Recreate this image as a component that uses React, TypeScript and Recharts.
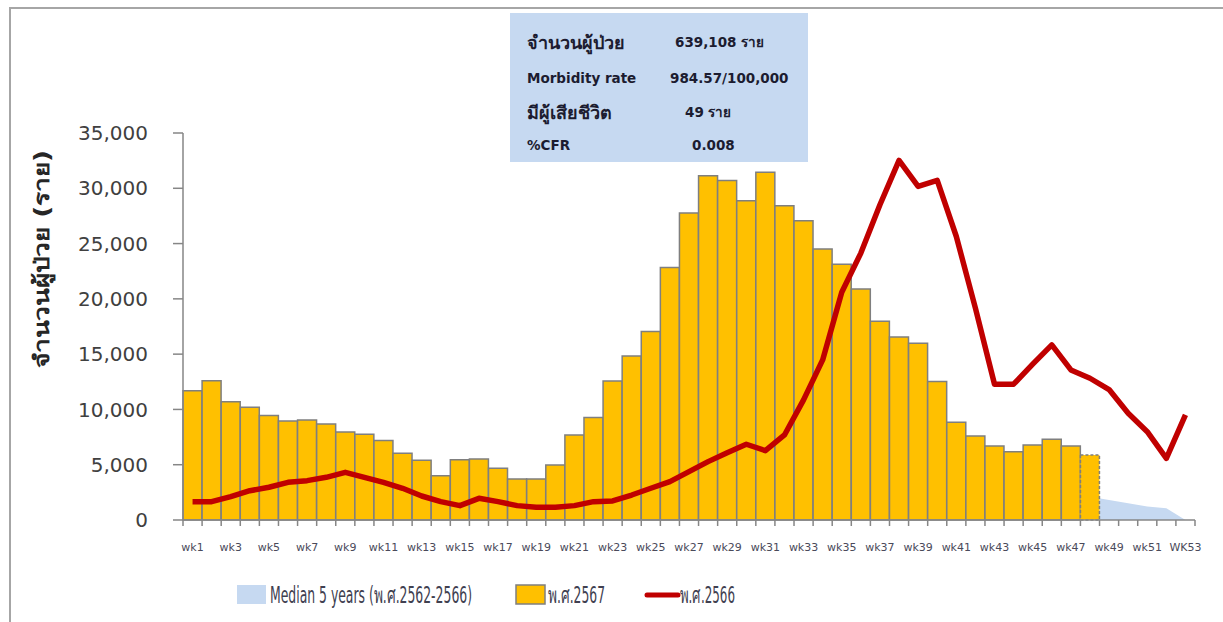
import { ComposedChart, Bar, Line, Area, XAxis, YAxis, Cell } from 'recharts';

const weeks = [
  'wk1', 'wk2', 'wk3', 'wk4', 'wk5', 'wk6', 'wk7', 'wk8', 'wk9', 'wk10',
  'wk11', 'wk12', 'wk13', 'wk14', 'wk15', 'wk16', 'wk17', 'wk18', 'wk19', 'wk20',
  'wk21', 'wk22', 'wk23', 'wk24', 'wk25', 'wk26', 'wk27', 'wk28', 'wk29', 'wk30',
  'wk31', 'wk32', 'wk33', 'wk34', 'wk35', 'wk36', 'wk37', 'wk38', 'wk39', 'wk40',
  'wk41', 'wk42', 'wk43', 'wk44', 'wk45', 'wk46', 'wk47', 'wk48', 'wk49', 'wk50',
  'wk51', 'wk52', 'WK53',
];

// พ.ศ.2567 (bars), reported up to wk48
const cases2567 = [
  11700, 12600, 10700, 10200, 9440, 8960, 9050, 8690, 7960, 7750,
  7180, 6030, 5400, 4010, 5460, 5520, 4680, 3710, 3710, 4980,
  7690, 9260, 12580, 14840, 17040, 22830, 27760, 31130, 30710, 28870,
  31460, 28420, 27060, 24500, 23140, 20900, 17980, 16560, 15990, 12520,
  8840, 7600, 6700, 6180, 6790, 7300, 6700, 5880,
];

// พ.ศ.2566 (red line)
const cases2566 = [
  1660, 1660, 2110, 2650, 2960, 3410, 3560, 3860, 4310, 3860,
  3410, 2870, 2170, 1660, 1300, 1960, 1660, 1300, 1150, 1150,
  1300, 1660, 1720, 2260, 2870, 3470, 4370, 5280, 6090, 6850,
  6270, 7690, 10860, 14480, 20600, 24140, 28510, 32520, 30170, 30710,
  25640, 19160, 12280, 12280, 14090, 15840, 13570, 12820, 11800, 9650,
  7990, 5580, 9500,
];

// Median 5 years, only visible past the last bar
const median5y: (number | null)[] = [
  null, null, null, null, null, null, null, null, null, null,
  null, null, null, null, null, null, null, null, null, null,
  null, null, null, null, null, null, null, null, null, null,
  null, null, null, null, null, null, null, null, null, null,
  null, null, null, null, null, null, null, 2100, 1810, 1510,
  1210, 1060, 0,
];

const yTicks = [0, 5000, 10000, 15000, 20000, 25000, 30000, 35000];

const infoLabels = ['จำนวนผู้ป่วย', 'Morbidity rate', 'มีผู้เสียชีวิต', '%CFR'];
const infoValues = ['639,108 ราย', '984.57/100,000', '49 ราย', '0.008'];

const legendLabels = ['Median 5 years (พ.ศ.2562-2566)', 'พ.ศ.2567', 'พ.ศ.2566'];

const rows = weeks.map((week, i) => ({
  week,
  y2567: i < cases2567.length ? cases2567[i] : null,
  y2566: cases2566[i],
  median: median5y[i],
}));

const W = 1223;
const H = 622;
const margin = { top: 133, right: 28, bottom: 72, left: 0 };
const yAxisWidth = 183;
const band = (W - yAxisWidth - margin.right) / weeks.length;
const axisColor = '#868686';
const font = "Tahoma, 'DejaVu Sans', sans-serif";
const narrowFont = "'Liberation Sans Narrow', 'DejaVu Sans Condensed', 'Liberation Sans', sans-serif";

function WeekTick(props: any) {
  const { x, y, index, payload } = props;
  const left = x - band / 2;
  return (
    <g>
      <line x1={left} y1={y} x2={left} y2={y + 6} stroke={axisColor} strokeWidth={1.5} />
      {index === weeks.length - 1 && (
        <line x1={x + band / 2} y1={y} x2={x + band / 2} y2={y + 6} stroke={axisColor} strokeWidth={1.5} />
      )}
      {index % 2 === 0 && (
        <text x={x} y={y + 31} textAnchor="middle" fontSize={11} fill="#4a4a5a" fontFamily={font}>
          {payload.value}
        </text>
      )}
    </g>
  );
}

function YTitle() {
  return (
    <text
      transform="translate(42, 259) rotate(-90)"
      textAnchor="middle"
      dominantBaseline="central"
      fontSize={21}
      fontWeight="bold"
      fill="#262626"
      fontFamily={font}
      textLength={218}
      lengthAdjust="spacingAndGlyphs"
    >
      จำนวนผู้ป่วย (ราย)
    </text>
  );
}

function InfoBox() {
  const rowY = [29, 65, 99, 132];
  const valueX = [165, 160, 175, 182];
  return (
    <div
      style={{
        position: 'absolute',
        left: 510,
        top: 13,
        width: 298,
        height: 149,
        background: '#C6D9F1',
        fontFamily: font,
        color: '#1c1c30',
      }}
    >
      {infoLabels.map((label, i) => (
        <div key={label}>
          <span
            style={{
              position: 'absolute',
              left: 17,
              top: rowY[i],
              transform: 'translateY(-50%)',
              fontSize: i % 2 === 0 ? 18 : 13.5,
              fontWeight: 'bold',
              whiteSpace: 'nowrap',
            }}
          >
            {label}
          </span>
          <span
            style={{
              position: 'absolute',
              left: valueX[i],
              top: rowY[i],
              transform: 'translateY(-50%)',
              fontSize: 13.5,
              fontWeight: 'bold',
              whiteSpace: 'nowrap',
            }}
          >
            {infoValues[i]}
          </span>
        </div>
      ))}
    </div>
  );
}

// legend text is drawn condensed, as in the reference
function LegendText({ x, width, label }: { x: number; width: number; label: string }) {
  const sx = 0.72;
  return (
    <g transform={`translate(${x}, 33) scale(${sx}, 1)`}>
      <text
        x={0}
        y={0}
        fontSize={23}
        fill="#404050"
        fontFamily={narrowFont}
        textLength={width / sx}
        lengthAdjust="spacingAndGlyphs"
      >
        {label}
      </text>
    </g>
  );
}

function ChartLegend() {
  return (
    <svg width={W} height={52} style={{ position: 'absolute', left: 0, top: 570 }}>
      <rect x={237} y={15} width={29} height={19} fill="#C6D9F1" />
      <LegendText x={270} width={202} label={legendLabels[0]} />
      <rect x={516} y={15} width={29} height={19} fill="#FFC000" stroke="#7F7F7F" strokeWidth={1.5} />
      <LegendText x={548} width={57} label={legendLabels[1]} />
      <line x1={647} y1={25} x2={678} y2={25} stroke="#C00000" strokeWidth={5} strokeLinecap="round" />
      <LegendText x={680} width={55} label={legendLabels[2]} />
    </svg>
  );
}

export default function App() {
  return (
    <div style={{ position: 'absolute', left: 0, top: 0, width: W, height: H, background: '#fff', overflow: 'hidden' }}>
      <div
        style={{
          position: 'absolute',
          left: 9,
          top: 7,
          width: 1400,
          height: 800,
          borderTop: '2px solid #a6a6a6',
          borderLeft: '2px solid #a6a6a6',
        }}
      />
      <div style={{ position: 'absolute', left: 0, top: 0 }}>
        <ComposedChart width={W} height={H} data={rows} margin={margin} barCategoryGap={0} barGap={0}>
          <XAxis
            dataKey="week"
            interval={0}
            height={30}
            tickLine={false}
            tickSize={0}
            tickMargin={0}
            tick={<WeekTick />}
            axisLine={{ stroke: axisColor, strokeWidth: 1.5 }}
          />
          <YAxis
            width={yAxisWidth}
            domain={[0, 35000]}
            ticks={yTicks}
            interval={0}
            tickSize={10}
            tickMargin={25}
            tickFormatter={(v: number) => v.toLocaleString('en-US')}
            tick={{ fontSize: 20, fill: '#404040', fontFamily: font }}
            tickLine={{ stroke: axisColor, strokeWidth: 1.5 }}
            axisLine={{ stroke: axisColor, strokeWidth: 1.5 }}
            label={{ content: () => <YTitle /> }}
          />
          <Area
            dataKey="median"
            type="linear"
            fill="#C6D9F1"
            fillOpacity={1}
            stroke="none"
            connectNulls={false}
            isAnimationActive={false}
          />
          <Bar dataKey="y2567" fill="#FFC000" stroke="#7F7F7F" strokeWidth={1.5} isAnimationActive={false}>
            {rows.map((r, i) => (
              <Cell key={r.week} strokeDasharray={i === cases2567.length - 1 ? '3 2' : undefined} />
            ))}
          </Bar>
          <Line
            dataKey="y2566"
            type="linear"
            stroke="#C00000"
            strokeWidth={5.5}
            strokeLinejoin="round"
            dot={false}
            activeDot={false}
            isAnimationActive={false}
          />
        </ComposedChart>
      </div>
      <InfoBox />
      <ChartLegend />
    </div>
  );
}
